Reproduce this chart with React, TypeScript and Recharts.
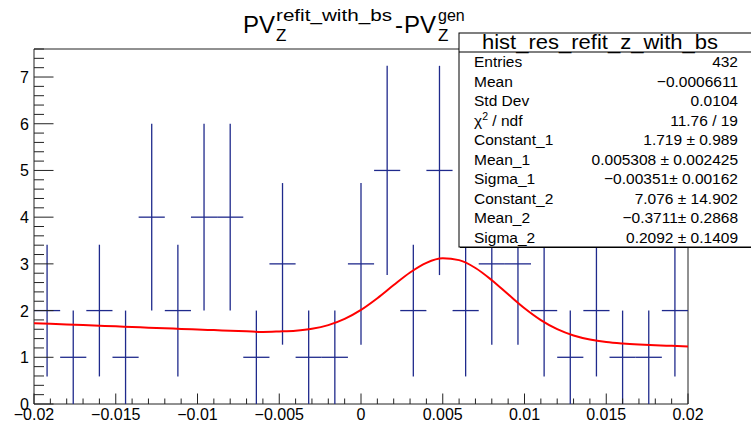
import React from 'react';
import { ComposedChart, Scatter, Line, XAxis, YAxis, ErrorBar, ReferenceArea } from 'recharts';

const FONT = '"Liberation Sans", Arial, Helvetica, sans-serif';
const HIST_COLOR = '#1f2a8c';
const FIT_COLOR = '#ff0000';
const AXIS_COLOR = '#222222';

// Histogram bins (centres), counts and their errors
const binCenters = [
  -0.0192, -0.0176, -0.016, -0.0144, -0.0128, -0.0112, -0.0096, -0.008, -0.0064, -0.0048,
  -0.0032, -0.0016, 0, 0.0016, 0.0032, 0.0048, 0.0064, 0.008, 0.0096, 0.0112,
  0.0128, 0.0144, 0.016, 0.0176, 0.0192,
];
const binCounts = [2, 1, 2, 1, 4, 2, 4, 4, 1, 3, 1, 1, 3, 5, 2, 5, 2, 3, 3, 2, 1, 2, 1, 1, 2];
const countErrors = [
  1.41, 1, 1.41, 1, 2, 1.41, 2, 2, 1, 1.73, 1, 1, 1.73, 2.24, 1.41, 2.24, 1.41, 1.73, 1.73, 1.41,
  1, 1.41, 1, 1, 1.41,
];
const binHalfWidth = 0.0008;

// Fit curve samples
const fitX = [
  -0.02, -0.019, -0.018, -0.017, -0.016, -0.015, -0.014, -0.013, -0.012, -0.011,
  -0.01, -0.009, -0.008, -0.007, -0.006, -0.005, -0.004, -0.003, -0.002, -0.001,
  0, 0.001, 0.002, 0.003, 0.004, 0.005, 0.006, 0.007, 0.008, 0.009,
  0.01, 0.011, 0.012, 0.013, 0.014, 0.015, 0.016, 0.017, 0.018, 0.019, 0.02,
];
const fitY = [
  1.731, 1.717, 1.703, 1.69, 1.676, 1.662, 1.649, 1.635, 1.622, 1.608,
  1.595, 1.582, 1.569, 1.556, 1.543, 1.553, 1.569, 1.609, 1.689, 1.822,
  2.015, 2.265, 2.546, 2.815, 3.022, 3.118, 3.08, 2.912, 2.651, 2.348,
  2.05, 1.797, 1.603, 1.468, 1.381, 1.327, 1.295, 1.273, 1.257, 1.245, 1.233,
];

const xMajorTicks = [-0.02, -0.015, -0.01, -0.005, 0, 0.005, 0.01, 0.015, 0.02];
const xMajorLabels = ['\u22120.02', '\u22120.015', '\u22120.01', '\u22120.005', '0', '0.005', '0.01', '0.015', '0.02'];
const yMajorTicks = [0, 1, 2, 3, 4, 5, 6, 7];
const yMajorLabels = ['0', '1', '2', '3', '4', '5', '6', '7'];
const X_DOMAIN: [number, number] = [-0.02, 0.02];
const Y_DOMAIN: [number, number] = [0, 7.6];

const xTicks: number[] = [];
for (let i = 0; i <= 40; i++) xTicks.push(+(X_DOMAIN[0] + i * 0.001).toFixed(4));
const yTicks: number[] = [];
for (let i = 0; i <= 38; i++) yTicks.push(+(i * 0.2).toFixed(1));

const titleMain = 'PV';
const titleSup1 = 'refit_with_bs';
const titleSub = 'Z';
const titleDash = '-';
const titleSup2 = 'gen';

const statsTitle = 'hist_res_refit_z_with_bs';
const statNames = ['Entries', 'Mean', 'Std Dev', 'CHI2', 'Constant_1', 'Mean_1', 'Sigma_1', 'Constant_2', 'Mean_2', 'Sigma_2'];
const statValues = [
  '432', '\u22120.0006611', '0.0104', '11.76 / 19', '1.719 \u00b1 0.989', '0.005308 \u00b1 0.002425',
  '\u22120.00351\u00b1 0.00162', '7.076 \u00b1 14.902', '\u22120.3711\u00b1 0.2868', '0.2092 \u00b1 0.1409',
];

const histData = binCenters.map((x, i) => ({ x, y: binCounts[i], yErr: countErrors[i], xErr: binHalfWidth }));
const fitData = fitX.map((x, i) => ({ x, y: fitY[i] }));

const XTick = (props: any) => {
  const { x, y, payload } = props;
  const v = payload.value;
  const idx = xMajorTicks.findIndex((m) => Math.abs(m - v) < 1e-7);
  const major = idx >= 0;
  return (
    <g>
      <line x1={x} x2={x} y1={y} y2={y - (major ? 10.5 : 5.5)} stroke={AXIS_COLOR} strokeWidth={1} />
      {major && (
        <text x={x} y={y + 16} textAnchor="middle" fontSize={16} fontFamily={FONT} fill="#000">
          {xMajorLabels[idx]}
        </text>
      )}
    </g>
  );
};

const YTick = (props: any) => {
  const { x, y, payload } = props;
  const v = payload.value;
  const idx = yMajorTicks.findIndex((m) => Math.abs(m - v) < 1e-7);
  const major = idx >= 0;
  return (
    <g>
      <line x1={x} x2={x + (major ? 19.5 : 10)} y1={y} y2={y} stroke={AXIS_COLOR} strokeWidth={1} />
      {major && (
        <text x={x - 5} y={y + 6} textAnchor="end" fontSize={16} fontFamily={FONT} fill="#000">
          {yMajorLabels[idx]}
        </text>
      )}
    </g>
  );
};

const Overlay = () => {
  const T = 24;
  const S = 16;
  const Z = 17;
  const base = 33;

  const boxL = 459;
  const boxT = 33;
  const boxB = 247;
  const headH = 19;
  const rowH = (boxB - boxT - headH) / statNames.length;
  const rowFont = 15.5;

  return (
    <svg width={751} height={423} style={{ position: 'absolute', left: 0, top: 0, pointerEvents: 'none' }}>
      <g fontFamily={FONT} fill="#000">
        <text x={243} y={base} fontSize={T}>{titleMain}</text>
        <text x={276} y={base - 12} fontSize={S} textLength={116} lengthAdjust="spacingAndGlyphs">{titleSup1}</text>
        <text x={276} y={base + 8} fontSize={Z}>{titleSub}</text>
        <text x={395} y={base} fontSize={T}>{titleDash}</text>
        <text x={404} y={base} fontSize={T}>{titleMain}</text>
        <text x={438} y={base - 12} fontSize={S}>{titleSup2}</text>
        <text x={438} y={base + 8} fontSize={Z}>{titleSub}</text>
      </g>
      <rect x={boxL + 1} y={boxT + 1} width={320} height={boxB - boxT} fill="#000" />
      <rect x={boxL} y={boxT} width={320} height={boxB - boxT} fill="#fff" stroke="#000" strokeWidth={1} />
      <line x1={boxL} x2={760} y1={boxT + headH} y2={boxT + headH} stroke="#000" strokeWidth={1} />
      <g fontFamily={FONT} fill="#000">
        <text x={600} y={boxT + 16} fontSize={20} textAnchor="middle" textLength={236} lengthAdjust="spacingAndGlyphs">{statsTitle}</text>
        {statNames.map((n, i) => {
          const yb = boxT + headH + rowH * (i + 0.5) + 5.5;
          return (
            <g key={n}>
              {n === 'CHI2' ? (
                <text x={474} y={yb} fontSize={rowFont}>
                  {'\u03c7'}
                  <tspan fontSize={10.5} dy={-5.5}>2</tspan>
                  <tspan dy={5.5}>{' / ndf'}</tspan>
                </text>
              ) : (
                <text x={474} y={yb} fontSize={rowFont}>{n}</text>
              )}
              <text x={738} y={yb} fontSize={rowFont} textAnchor="end">{statValues[i]}</text>
            </g>
          );
        })}
      </g>
    </svg>
  );
};

export default function App() {
  return (
    <div style={{ position: 'absolute', left: 0, top: 0, width: 751, height: 423, overflow: 'hidden', background: '#fff' }}>
      <ComposedChart width={751} height={423} margin={{ top: 49, right: 63, bottom: 0, left: 0 }}>
        <XAxis
          dataKey="x"
          type="number"
          domain={X_DOMAIN}
          ticks={xTicks}
          interval={0}
          allowDataOverflow
          height={19}
          tickSize={0}
          tickMargin={0}
          tickLine={false}
          axisLine={false}
          tick={<XTick />}
        />
        <YAxis
          type="number"
          domain={Y_DOMAIN}
          ticks={yTicks}
          interval={0}
          allowDataOverflow
          width={34}
          tickSize={0}
          tickMargin={0}
          tickLine={false}
          axisLine={false}
          tick={<YTick />}
        />
        <Scatter data={histData} dataKey="y" isAnimationActive={false} shape={() => <g />}>
          <ErrorBar dataKey="yErr" direction="y" width={0} stroke={HIST_COLOR} strokeWidth={1.3} isAnimationActive={false} />
          <ErrorBar dataKey="xErr" direction="x" width={0} stroke={HIST_COLOR} strokeWidth={1.3} isAnimationActive={false} />
        </Scatter>
        <Line data={fitData} dataKey="y" type="monotone" dot={false} stroke={FIT_COLOR} strokeWidth={2} isAnimationActive={false} />
        <ReferenceArea x1={X_DOMAIN[0]} x2={X_DOMAIN[1]} y1={Y_DOMAIN[0]} y2={Y_DOMAIN[1]} fill="none" stroke={AXIS_COLOR} strokeWidth={1} fillOpacity={0} />
      </ComposedChart>
      <Overlay />
    </div>
  );
}
